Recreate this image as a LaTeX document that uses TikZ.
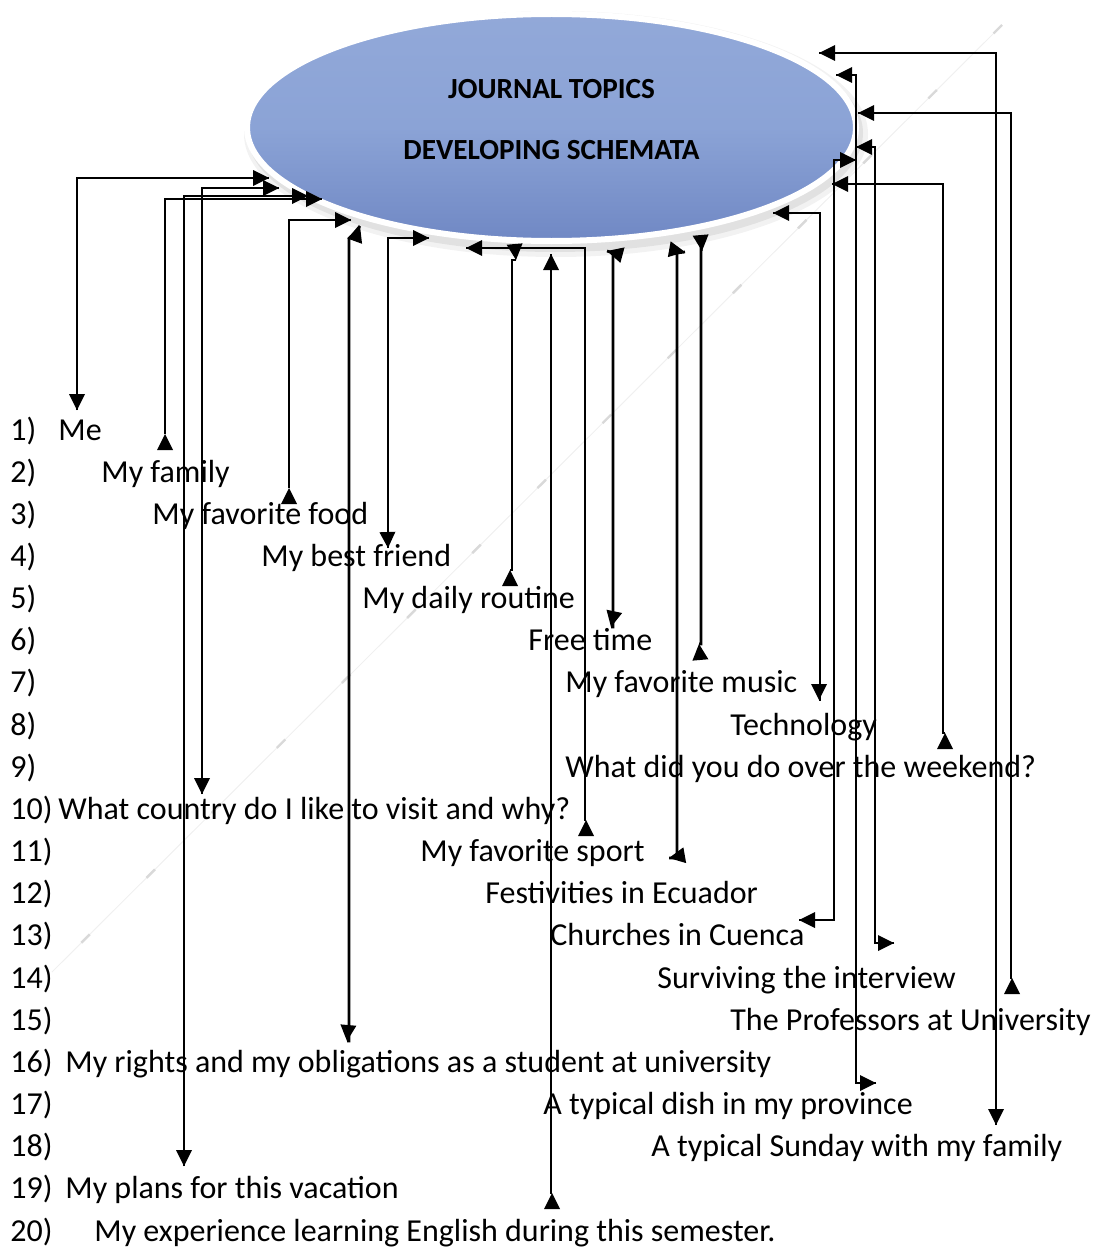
\documentclass[tikz,border=0pt]{standalone}
\usepackage{fontspec}
\setmainfont{Carlito}
\usetikzlibrary{shapes.geometric}

\definecolor{topicblue}{RGB}{139,163,214}
\definecolor{topicdark}{RGB}{112,136,196}

\tikzset{
  topic/.style={ellipse, inner sep=0pt, minimum width=304.5pt, minimum height=113.5pt,
    draw=white, line width=3pt, top color=topicblue!94!white, bottom color=topicdark,
    middle color=topicblue},
  heading/.style={font=\fontsize{14.6}{17}\selectfont\bfseries, inner sep=0pt, anchor=base},
  item/.style={font=\fontsize{16}{19}\selectfont, inner sep=0pt, anchor=base west},
  link/.style={line width=1.35pt, black},
  head/.pic={\fill (0,0) -- (-16,8) -- (-16,-8) -- cycle;},
  ghost/.style={gray!12, line width=0.5pt}
}

\begin{document}
\begin{tikzpicture}[x=0.5pt, y=0.5pt]
  \useasboundingbox (0,0) rectangle (1100,-1247);

  % faint diagonal trace
  \coordinate (g1) at (1002,-25);
  \coordinate (g2) at (52,-972);
  \draw[ghost] (g1) -- (g2);
  \draw[ghost, gray!30, line width=1.2pt, dash pattern=on 6pt off 40pt] (g1) -- (g2);

  % the topic ellipse with a soft shadow
  \fill[black, opacity=0.05] (556,-134) ellipse [x radius=312, y radius=123];
  \fill[black, opacity=0.07] (555,-133) ellipse [x radius=308, y radius=119];
  \node[topic] (topic) at (551.5,-127.5) {};
  \node[heading] (title1) at (551.5,-98) {JOURNAL TOPICS};
  \node[heading] (title2) at (551.5,-159) {DEVELOPING SCHEMATA};

  % the list of topics
  \foreach \n/\x/\txt in {1/58/Me, 2/101/My family, 3/152/My favorite food,
      4/261/My best friend, 5/362/My daily routine, 6/528/Free time,
      7/565/My favorite music, 8/730/Technology,
      9/565/What did you do over the weekend?,
      10/58/What country do I like to visit and why?,
      11/420/My favorite sport, 12/485/Festivities in Ecuador,
      13/550/Churches in Cuenca, 14/657/Surviving the interview,
      15/730/The Professors at University,
      16/65/My rights and my obligations as a student at university,
      17/543/A typical dish in my province,
      18/651/A typical Sunday with my family,
      19/65/My plans for this vacation,
      20/94/My experience learning English during this semester.} {
    \pgfmathsetmacro{\b}{440+(\n-1)*42.16}
    \node[item] (n\n) at (10,-\b) {\n)};
    \node[item] (t\n) at (\x,-\b) {\txt};
  }

  % connectors: list end / corner / ellipse end / head angles
  \foreach \sx/\sy/\kx/\ky/\ex/\ey/\sa/\ea [count=\c] in {
      77/410/77/178/269/178/270/0,
      165/434/165/199/322/199/90/0,
      289/488/289/220/351/220/90/0,
      388/548/388/238/429/238/272/0,
      510/570/512/260/516/260/90/275,
      611/627/613/253/607/251/258/165,
      699/644/701/250/702/251/95/275,
      819/700/820/213/773/213/270/180,
      945/733/943/184/832/184/90/180,
      202/794/202/188/279/188/270/0,
      586/820/585/248/466/248/90/180,
      669/858/677/253/685/252/190/350,
      799/920/834/160/856/160/180/0,
      894/943/875/147/856/147/0/180,
      1012/978/1011/113/858/113/90/180,
      347/1041/349/239/360/226/265/70,
      876/1083/856/75/836/75/0/180,
      996/1125/996/53/819/53/270/180,
      184/1166/184/196/308/196/270/0,
      552/1193/551/254/551/254/90/90} {
    \coordinate (s\c) at (\sx,-\sy);
    \coordinate (k\c) at (\kx,-\ky);
    \coordinate (e\c) at (\ex,-\ey);
    \draw[link] (s\c) -| (k\c) -- (e\c);
    \pic[rotate=\sa] at (s\c) {head};
    \pic[rotate=\ea] at (e\c) {head};
  }
\end{tikzpicture}
\end{document}
